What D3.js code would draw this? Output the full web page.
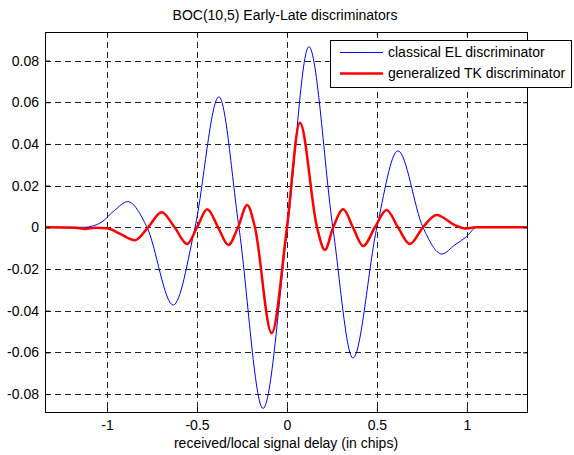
<!DOCTYPE html>
<html>
<head>
<meta charset="utf-8">
<script src="https://cdn.jsdelivr.net/npm/d3@7"></script>
<style>
  html, body { margin: 0; padding: 0; background: #fff; }
  svg { display: block; font-family: "Liberation Sans", Arial, sans-serif; }
</style>
</head>
<body>
<svg id="chart" width="574" height="455"></svg>
<script>
// ---- data ----
const titleText = "BOC(10,5) Early-Late discriminators";
const xLabelText = "received/local signal delay (in chips)";
const seriesNames = ["classical EL discriminator", "generalized TK discriminator"];

const delayEL = [-1.34, -1.12, -1.085, -1.03, -0.96, -0.885, -0.778, -0.632, -0.511, -0.378, -0.267, -0.133, 0.003, 0.122, 0.255, 0.367, 0.5, 0.617, 0.756, 0.861, 0.933, 0.998, 1.055, 1.34];
const valuesEL = [0, 0, 0.0005, 0.0025, 0.0080, 0.0123, 0, -0.0373, 0, 0.0626, 0, -0.0869, 0, 0.0866, 0, -0.0627, 0, 0.0367, 0, -0.0128, -0.0085, -0.0045, 0, 0];

const delayTK = [-1.34, -1.18, -1.12, -1.07, -1.0, -0.93, -0.844, -0.772, -0.696, -0.625, -0.554, -0.5, -0.443, -0.383, -0.326, -0.272, -0.221, -0.178, -0.085, 0.0, 0.072, 0.167, 0.211, 0.257, 0.313, 0.367, 0.424, 0.489, 0.554, 0.617, 0.683, 0.756, 0.832, 0.93, 0.99, 1.05, 1.34];
const valuesTK = [0, -0.0002, -0.0008, -0.0002, -0.0005, -0.003, -0.0062, 0, 0.0072, 0, -0.0080, 0, 0.0086, 0, -0.0085, 0, 0.0107, 0, -0.0508, 0, 0.0502, 0, -0.0109, 0, 0.0086, 0, -0.0090, 0, 0.0083, 0, -0.0080, 0, 0.0059, 0.0012, -0.0006, 0, 0];

const xTicks = [-1, -0.5, 0, 0.5, 1];
const xTickLabels = ["-1", "-0.5", "0", "0.5", "1"];
const yTicks = [-0.08, -0.06, -0.04, -0.02, 0, 0.02, 0.04, 0.06, 0.08];
const yTickLabels = ["-0.08", "-0.06", "-0.04", "-0.02", "0", "0.02", "0.04", "0.06", "0.08"];

// ---- layout ----
const L = 45, R = 528, T = 32, B = 413;
const svg = d3.select("#chart");
const x = d3.scaleLinear().domain([-1.345, 1.34]).range([L, R]);
const y = d3.scaleLinear().domain([-0.0891, 0.0937]).range([B, T]);

svg.append("rect").attr("width", 574).attr("height", 455).attr("fill", "#fff");
svg.append("rect").attr("x", L).attr("y", T).attr("width", R - L).attr("height", B - T).attr("fill", "#fff");

// grid
const grid = svg.append("g").attr("stroke", "#222").attr("stroke-width", 1).attr("stroke-dasharray", "6,4");
grid.selectAll("line.gx").data(xTicks).join("line")
  .attr("x1", d => Math.round(x(d)) + 0.5).attr("x2", d => Math.round(x(d)) + 0.5)
  .attr("y1", T).attr("y2", B);
grid.selectAll("line.gy").data(yTicks).join("line")
  .attr("y1", d => Math.round(y(d)) + 0.5).attr("y2", d => Math.round(y(d)) + 0.5)
  .attr("x1", L).attr("x2", R);

// curves
svg.append("clipPath").attr("id", "clip").append("rect")
  .attr("x", L).attr("y", T).attr("width", R - L).attr("height", B - T);
const line = d3.line().x(d => x(d[0])).y(d => y(d[1])).curve(d3.curveMonotoneX);
const el = delayEL.map((d, i) => [d, valuesEL[i]]);
const tk = delayTK.map((d, i) => [d, valuesTK[i]]);
const plot = svg.append("g").attr("clip-path", "url(#clip)");
plot.append("path").datum(el).attr("d", line).attr("fill", "none").attr("stroke", "#0000ff").attr("stroke-width", 1);
plot.append("path").datum(tk).attr("d", line).attr("fill", "none").attr("stroke", "#ff0000").attr("stroke-width", 2.5).attr("stroke-linejoin", "round");

// axes box & ticks
const axisG = svg.append("g");
const xAxisB = d3.axisBottom(x).tickValues(xTicks).tickSize(-5).tickPadding(7).tickFormat((d, i) => xTickLabels[i]);
const xAxisT = d3.axisTop(x).tickValues(xTicks).tickSize(-5).tickFormat("");
const yAxisL = d3.axisLeft(y).tickValues(yTicks).tickSize(-5).tickPadding(6).tickFormat((d, i) => yTickLabels[i]);
const yAxisR = d3.axisRight(y).tickValues(yTicks).tickSize(-5).tickFormat("");
function styleAxis(g) {
  g.select(".domain").remove();
  g.selectAll(".tick line").attr("stroke", "#000");
  g.selectAll(".tick text").attr("fill", "#000").attr("font-size", 14).attr("font-family", "Liberation Sans, Arial, sans-serif");
}
axisG.append("g").attr("transform", `translate(0,${B})`).call(xAxisB).call(styleAxis);
axisG.append("g").attr("transform", `translate(0,${T})`).call(xAxisT).call(styleAxis);
axisG.append("g").attr("transform", `translate(${L},0)`).call(yAxisL).call(styleAxis);
axisG.append("g").attr("transform", `translate(${R},0)`).call(yAxisR).call(styleAxis);
svg.append("rect").attr("x", L + 0.5).attr("y", T + 0.5).attr("width", R - L - 1).attr("height", B - T - 1)
  .attr("fill", "none").attr("stroke", "#000").attr("stroke-width", 1);

// title & label
svg.append("text").attr("x", 285).attr("y", 20).attr("text-anchor", "middle")
  .attr("font-size", 14).text(titleText);
svg.append("text").attr("x", 286).attr("y", 448).attr("text-anchor", "middle")
  .attr("font-size", 14).text(xLabelText);

// legend
const lg = svg.append("g");
lg.append("rect").attr("x", 330.5).attr("y", 40.5).attr("width", 241).attr("height", 47)
  .attr("fill", "#fff").attr("stroke", "#000").attr("stroke-width", 1);
const legColors = ["#0000ff", "#ff0000"], legWidths = [1, 2.5], legY = [52.5, 73.5];
seriesNames.forEach((name, i) => {
  lg.append("line").attr("x1", 340).attr("x2", 383).attr("y1", legY[i]).attr("y2", legY[i])
    .attr("stroke", legColors[i]).attr("stroke-width", legWidths[i]);
  lg.append("text").attr("x", 388).attr("y", legY[i]).attr("dy", "0.35em")
    .attr("font-size", 14).text(name);
});
</script>
</body>
</html>
